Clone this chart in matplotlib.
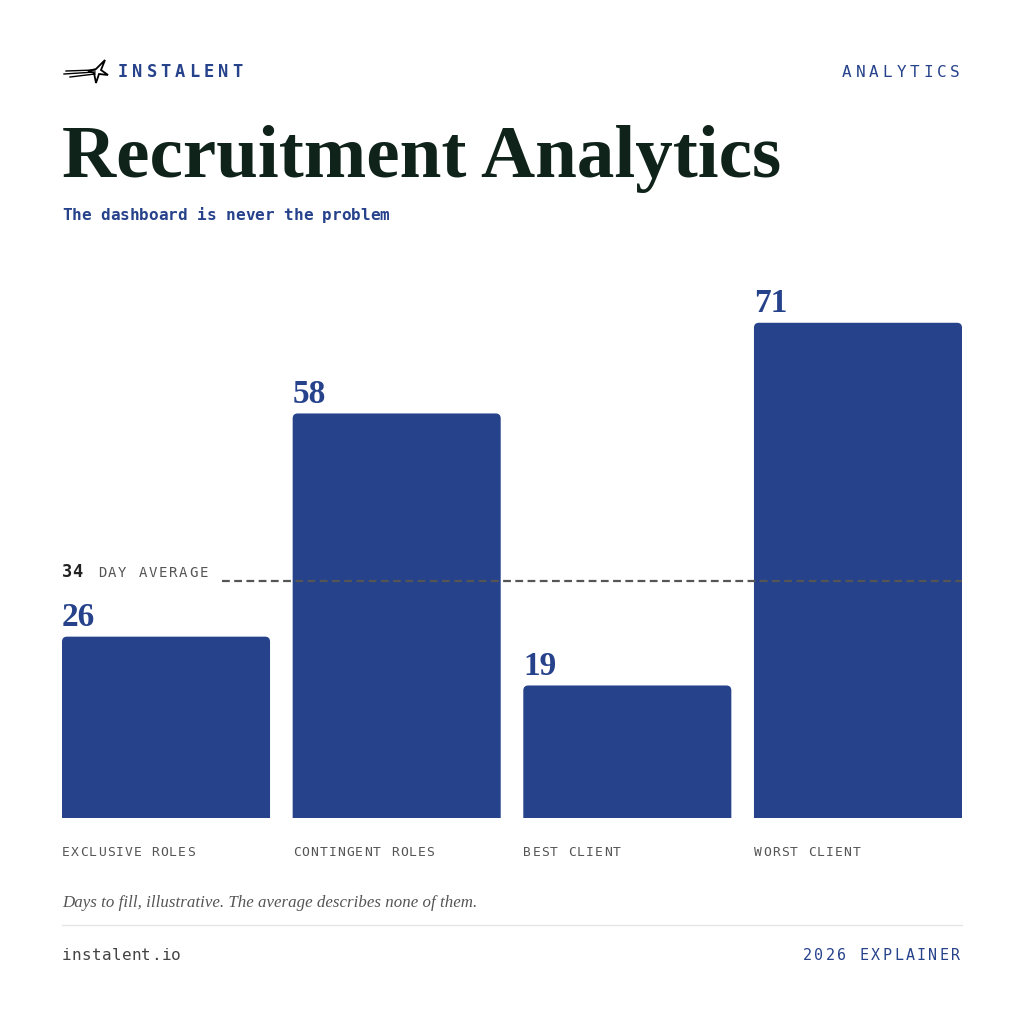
import numpy as np
import matplotlib.pyplot as plt
from matplotlib.patches import FancyBboxPatch, Polygon

categories = ['EXCLUSIVE ROLES', 'CONTINGENT ROLES', 'BEST CLIENT', 'WORST CLIENT']
days = [26, 58, 19, 71]
average = 34

BLUE = '#26428B'
DARK = '#10231A'
GRAY = '#555555'
MONO = 'DejaVu Sans Mono'
W = H = 1024

fig = plt.figure(figsize=(10.24, 10.24), dpi=100)
fig.patch.set_facecolor('white')


def fx(x):
    return x / W


def fy(y):
    return 1 - y / H


def tracked(x, y, s, size_px, track_px, color, weight='normal', ha='left'):
    # monospace text with letter spacing, drawn one char at a time
    adv = 0.602 * size_px + track_px
    total = adv * len(s) - track_px
    if ha == 'right':
        x = x - total
    for i, ch in enumerate(s):
        fig.text(fx(x + i * adv), fy(y), ch, fontsize=size_px * 0.72,
                 family=MONO, weight=weight, color=color, va='baseline')


# header
tracked(118, 77, 'INSTALENT', 17, 4, BLUE, weight='bold')
tracked(960, 77, 'ANALYTICS', 16, 3.9, BLUE, ha='right')

# logo: speed lines + star outline
for y0, y1, x0 in [(71, 70, 66), (74, 72, 64), (77, 74, 70)]:
    fig.add_artist(plt.Line2D([fx(x0), fx(95)], [fy(y0), fy(y1)], color='black', lw=1.0))
star = [(88, 71), (96, 69), (105, 60), (101, 70), (108, 75), (99, 74), (96, 83), (94, 73)]
fig.add_artist(Polygon([(fx(a), fy(b)) for a, b in star], closed=True, fill=False,
                       edgecolor='black', lw=1.3, transform=fig.transFigure))

# title + subtitle
fig.text(fx(62), fy(177), 'Recruitment Analytics', fontsize=54, weight='bold',
         family='Liberation Serif', color=DARK, va='baseline')
tracked(62, 220, 'The dashboard is never the problem', 16, 0, BLUE, weight='bold')

# chart
ax = fig.add_axes([fx(62), fy(818), (962 - 62) / W, (818 - 260) / H])
ax.set_xlim(-0.451, 3.451)
ax.set_ylim(0, 80)
ax.axis('off')

x = np.arange(len(days))
bw = 0.902
rx = 5 / 230.7
ry = 5 / 6.97
for xi, v in zip(x, days):
    p = FancyBboxPatch((xi - bw / 2, -2), bw, v + 2,
                       boxstyle=f'round,pad=0,rounding_size={rx}',
                       mutation_aspect=ry / rx, facecolor=BLUE, edgecolor='none')
    ax.add_patch(p)
    ax.annotate(str(v), (xi - bw / 2, v), xytext=(0, 7.5), textcoords='offset points',
                fontsize=24, weight='bold', family='Liberation Serif', color=BLUE,
                va='baseline', ha='left')

ax.plot([-0.451 + (222 - 62) / 230.7, 3.451], [average, average], color=GRAY,
        lw=1.6, linestyle=(0, (3.5, 2)), zorder=3)

# average label
avg_y = 818 - average * 6.97 - 4
tracked(62, avg_y, str(average), 17, 0, '#222222', weight='bold')
tracked(98, avg_y, 'DAY AVERAGE', 14, 1.7, GRAY)

# category labels
for xi, c in zip(x, categories):
    tracked(62 + xi * 230.7, 856, c, 13, 1.1, GRAY)

# footer
fig.text(fx(62), fy(907), 'Days to fill, illustrative. The average describes none of them.',
         fontsize=12.2, style='italic', family='Liberation Serif', color=GRAY, va='baseline')
fig.add_artist(plt.Line2D([fx(62), fx(962)], [fy(925), fy(925)], color='#E6E6E6', lw=1))
tracked(62, 960, 'instalent.io', 16, 0.3, '#444444')
tracked(960, 960, '2026 EXPLAINER', 15, 2.35, BLUE, ha='right')

fig.savefig('out.png', dpi=100, facecolor='white')
